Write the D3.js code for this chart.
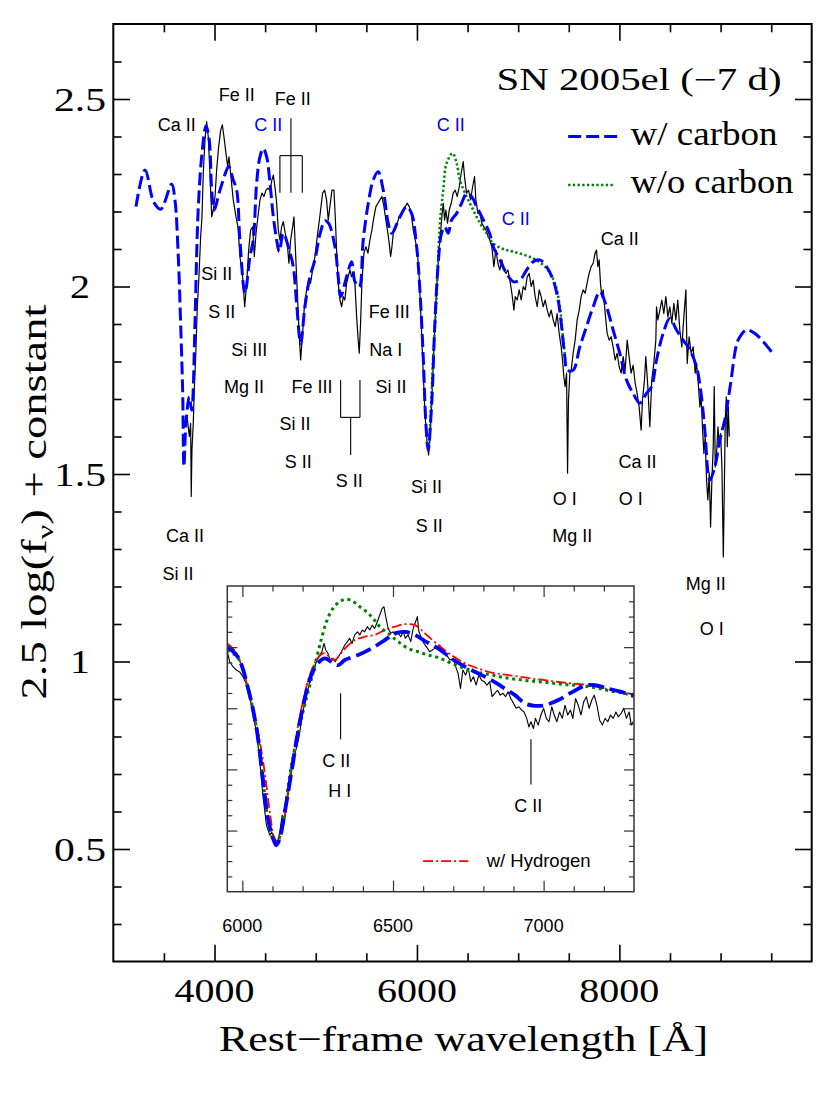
<!DOCTYPE html>
<html><head><meta charset="utf-8">
<script src="https://cdn.jsdelivr.net/npm/d3@7"></script>
<style>body{margin:0;background:#fff}</style>
</head><body><svg id="c" width="830" height="1106"></svg>
<script>
// ---------- DATA ----------
const obsWave=[3731,3751,3764,3770,3777,3790,3800,3814,3830,3846,3863,3876,3889,3906,3922,3938,3955,3972,3988,4005,4021,4041,4061,4077,4093,4113,4130,4143,4159,4185,4212,4232,4251,4278,4298,4318,4337,4357,4377,4393,4410,4429,4449,4469,4488,4508,4528,4548,4567,4581,4597,4614,4630,4646,4663,4679,4699,4719,4735,4752,4772,4785,4798,4817,4834,4851,4870,4890,4910,4930,4949,4969,4992,5015,5042,5068,5088,5107,5124,5140,5160,5180,5193,5206,5222,5239,5256,5272,5288,5305,5321,5338,5354,5371,5387,5404,5417,5430,5443,5456,5476,5496,5516,5535,5555,5575,5595,5614,5634,5654,5674,5693,5713,5726,5740,5753,5766,5786,5805,5825,5845,5865,5884,5904,5924,5944,5963,5983,6003,6022,6042,6062,6081,6101,6115,6128,6148,6167,6187,6207,6227,6246,6260,6273,6286,6302,6319,6339,6358,6378,6398,6418,6437,6457,6470,6490,6510,6530,6550,6569,6582,6602,6622,6641,6661,6681,6704,6720,6740,6760,6780,6800,6819,6839,6859,6879,6899,6918,6938,6958,6971,6991,7010,7030,7050,7070,7089,7109,7129,7148,7168,7188,7208,7227,7247,7267,7287,7306,7326,7346,7366,7385,7405,7425,7438,7451,7464,7478,7488,7497,7511,7524,7543,7563,7583,7603,7622,7642,7662,7681,7701,7721,7741,7760,7774,7787,7800,7813,7827,7840,7860,7879,7899,7919,7938,7958,7978,7998,8017,8037,8057,8077,8096,8116,8136,8156,8175,8195,8215,8228,8248,8261,8281,8301,8320,8340,8360,8367,8380,8400,8419,8439,8459,8479,8498,8518,8538,8558,8577,8597,8617,8637,8657,8670,8689,8709,8729,8749,8762,8782,8795,8808,8822,8835,8848,8861,8874,8888,8901,8914,8927,8937,8947,8960,8974,8987,9000,9013,9027,9037,9046,9056,9066,9076,9086];
const obsFlux=[1.648,1.600,1.635,1.440,1.564,1.635,1.724,1.813,1.946,2.026,2.133,2.186,2.302,2.391,2.440,2.400,2.302,2.186,2.204,2.240,2.311,2.373,2.417,2.431,2.400,2.355,2.320,2.346,2.302,2.231,2.186,2.159,2.080,2.026,1.946,2.009,2.097,2.151,2.159,2.080,2.142,2.186,2.231,2.249,2.240,2.257,2.262,2.257,2.284,2.297,2.266,2.222,2.151,2.124,2.159,2.173,2.142,2.115,2.062,2.124,2.159,2.186,2.106,1.991,1.884,1.804,1.875,1.955,1.991,2.017,2.009,2.044,2.080,2.133,2.190,2.249,2.257,2.231,2.177,2.213,2.257,2.257,2.186,2.097,2.009,1.964,1.946,1.973,1.964,2.009,2.026,2.044,2.026,2.035,2.009,1.919,1.866,1.822,1.902,2.009,2.089,2.106,2.089,2.124,2.151,2.186,2.213,2.222,2.231,2.240,2.213,2.177,2.142,2.115,2.080,2.106,2.142,2.151,2.169,2.186,2.195,2.204,2.213,2.222,2.213,2.195,2.151,2.124,2.097,2.026,1.902,1.769,1.653,1.582,1.551,1.591,1.706,1.831,1.955,2.053,2.124,2.186,2.222,2.177,2.204,2.169,2.204,2.222,2.249,2.257,2.240,2.266,2.302,2.333,2.293,2.249,2.257,2.231,2.266,2.293,2.231,2.195,2.195,2.169,2.159,2.151,2.133,2.124,2.106,2.053,2.097,2.062,2.044,2.071,2.044,2.035,2.044,2.017,1.982,1.937,1.973,1.964,1.991,1.964,2.000,1.991,2.026,2.035,2.000,2.017,1.973,1.946,1.991,1.973,1.946,1.964,1.937,1.919,1.937,1.911,1.893,1.928,1.875,1.839,1.804,1.759,1.733,1.769,1.502,1.697,1.769,1.777,1.822,1.857,1.911,1.937,1.973,1.991,1.982,2.009,2.035,2.053,2.062,2.089,2.097,2.053,2.071,2.009,1.973,1.991,1.928,1.875,1.857,1.866,1.839,1.804,1.822,1.786,1.769,1.813,1.777,1.857,1.813,1.769,1.790,1.742,1.715,1.679,1.617,1.697,1.751,1.813,1.733,1.626,1.751,1.795,1.857,1.946,1.911,1.937,1.964,1.928,1.973,1.919,1.946,1.902,1.955,1.911,1.964,1.884,1.839,1.919,1.991,1.795,1.866,1.822,1.839,1.769,1.795,1.733,1.679,1.706,1.617,1.555,1.600,1.484,1.431,1.502,1.359,1.484,1.573,1.733,1.519,1.555,1.626,1.573,1.608,1.519,1.279,1.466,1.644,1.706,1.573,1.679,1.600];

const carbonWave=[3224,3313,3400,3468,3577,3609,3642,3665,3685,3698,3718,3751,3774,3807,3823,3840,3873,3916,3948,3972,3995,4054,4120,4140,4185,4219,4251,4301,4350,4383,4416,4449,4482,4515,4548,4581,4614,4640,4679,4738,4778,4811,4851,4893,4943,4992,5042,5091,5126,5190,5222,5246,5305,5354,5387,5430,5469,5519,5568,5617,5667,5716,5750,5832,5898,5947,5997,6029,6062,6088,6111,6144,6177,6210,6243,6276,6309,6342,6392,6441,6490,6540,6589,6655,6720,6753,6819,6885,6951,7017,7083,7148,7214,7280,7346,7395,7429,7461,7484,7543,7609,7675,7741,7807,7873,7938,8004,8070,8136,8202,8268,8318,8367,8432,8498,8564,8630,8696,8762,8811,8844,8893,8943,8992,9041,9074,9108,9140,9173,9256,9338,9420,9503];
const carbonFlux=[2.213,2.311,2.225,2.206,2.273,2.231,2.080,1.903,1.724,1.520,1.636,1.706,1.670,1.903,2.080,2.213,2.346,2.428,2.390,2.257,2.204,2.257,2.311,2.320,2.284,2.257,2.124,1.982,2.080,2.124,2.275,2.346,2.368,2.346,2.275,2.186,2.124,2.093,2.142,2.097,2.053,1.955,1.848,1.946,2.026,2.071,2.140,2.175,2.169,2.106,2.026,1.973,2.026,2.066,2.013,1.999,2.124,2.222,2.284,2.306,2.257,2.169,2.142,2.186,2.213,2.195,2.106,1.991,1.813,1.635,1.564,1.679,1.902,2.062,2.142,2.159,2.142,2.177,2.195,2.222,2.248,2.240,2.213,2.178,2.140,2.106,2.071,2.035,2.013,2.017,2.044,2.066,2.071,2.053,2.017,1.964,1.893,1.813,1.777,1.777,1.839,1.893,1.946,1.986,1.946,1.884,1.822,1.751,1.715,1.689,1.715,1.733,1.804,1.875,1.915,1.884,1.857,1.831,1.786,1.706,1.617,1.484,1.519,1.591,1.644,1.697,1.759,1.822,1.857,1.884,1.875,1.853,1.826];

const noCarbonWave=[6100,6111,6161,6194,6227,6260,6293,6352,6392,6424,6490,6556,6622,6688,6753,6851,6951,7148,7280,7362,7412,7445,7461];
const noCarbonFlux=[1.585,1.575,1.813,1.973,2.169,2.257,2.329,2.355,2.329,2.284,2.240,2.204,2.169,2.142,2.115,2.100,2.093,2.075,2.049,2.009,1.946,1.857,1.822];

const insetObsWave=[5950,5958,5969,5980,5991,6002,6013,6024,6035,6047,6058,6068,6080,6091,6098,6107,6115,6124,6132,6141,6150,6157,6168,6179,6187,6194,6201,6213,6224,6235,6246,6257,6264,6271,6277,6284,6293,6301,6308,6318,6329,6340,6349,6356,6364,6373,6382,6390,6398,6406,6415,6423,6431,6439,6448,6456,6464,6470,6477,6484,6493,6500,6508,6517,6526,6534,6541,6550,6559,6567,6575,6581,6586,6595,6603,6611,6622,6639,6655,6666,6678,6689,6700,6708,6716,6724,6732,6741,6750,6758,6767,6776,6785,6794,6803,6812,6821,6829,6838,6847,6856,6865,6874,6882,6891,6900,6909,6918,6927,6935,6944,6951,6958,6966,6973,6982,6991,7000,7009,7018,7027,7035,7044,7053,7062,7071,7080,7089,7097,7106,7115,7124,7133,7142,7151,7160,7168,7177,7186,7195,7204,7213,7222,7231,7240,7248,7257,7266,7275,7284,7291,7297];
const insetObsFlux=[0.785,0.752,0.736,0.725,0.719,0.703,0.681,0.643,0.578,0.523,0.425,0.316,0.217,0.185,0.195,0.163,0.152,0.195,0.250,0.239,0.305,0.348,0.425,0.469,0.501,0.545,0.588,0.643,0.687,0.725,0.752,0.774,0.785,0.812,0.790,0.780,0.752,0.763,0.752,0.768,0.785,0.807,0.818,0.829,0.812,0.840,0.850,0.840,0.856,0.850,0.867,0.856,0.872,0.861,0.883,0.905,0.927,0.932,0.894,0.861,0.845,0.850,0.840,0.845,0.834,0.850,0.829,0.840,0.818,0.861,0.883,0.900,0.850,0.829,0.812,0.801,0.785,0.796,0.807,0.785,0.774,0.758,0.763,0.736,0.714,0.665,0.725,0.709,0.731,0.687,0.703,0.676,0.709,0.692,0.687,0.676,0.687,0.638,0.649,0.659,0.643,0.649,0.638,0.654,0.632,0.616,0.600,0.605,0.594,0.588,0.567,0.539,0.556,0.534,0.567,0.545,0.578,0.600,0.567,0.556,0.605,0.578,0.556,0.588,0.567,0.610,0.578,0.594,0.567,0.632,0.610,0.578,0.621,0.638,0.600,0.627,0.643,0.610,0.561,0.545,0.567,0.556,0.578,0.567,0.588,0.572,0.583,0.600,0.567,0.588,0.545,0.556];

const insetCarbonWave=[5950,5985,6019,6047,6068,6085,6102,6113,6124,6141,6163,6185,6207,6229,6251,6273,6296,6318,6340,6384,6429,6473,6506,6539,6573,6606,6650,6694,6739,6783,6827,6871,6905,6938,6971,7004,7049,7093,7137,7171,7204,7248,7298];
const insetCarbonFlux=[0.801,0.768,0.665,0.534,0.370,0.239,0.174,0.152,0.174,0.261,0.392,0.523,0.632,0.709,0.747,0.763,0.752,0.741,0.758,0.774,0.796,0.823,0.845,0.850,0.840,0.820,0.796,0.763,0.736,0.714,0.692,0.665,0.643,0.616,0.608,0.610,0.627,0.652,0.674,0.676,0.667,0.656,0.643];

const insetNoCarbonWave=[5950,5985,6019,6047,6068,6085,6107,6124,6141,6163,6196,6224,6246,6263,6279,6301,6323,6346,6368,6390,6412,6434,6456,6484,6517,6550,6583,6617,6650,6694,6739,6783,6827,6871,6916,6960,7004,7049,7093,7137,7181,7226,7270,7298];
const insetNoCarbonFlux=[0.790,0.765,0.665,0.534,0.370,0.239,0.163,0.180,0.270,0.414,0.567,0.676,0.763,0.829,0.883,0.927,0.949,0.957,0.949,0.932,0.916,0.894,0.867,0.845,0.818,0.796,0.785,0.774,0.766,0.747,0.730,0.717,0.709,0.700,0.694,0.689,0.685,0.680,0.676,0.672,0.665,0.656,0.649,0.638];

const insetHydWave=[5950,5974,5997,6024,6052,6074,6091,6107,6118,6135,6157,6179,6201,6224,6246,6268,6290,6307,6323,6346,6373,6406,6439,6473,6506,6539,6573,6606,6650,6694,6739,6783,6827,6871,6916,6960,7004,7049,7093,7137,7181,7226,7298];
const insetHydFlux=[0.812,0.790,0.741,0.643,0.523,0.392,0.261,0.174,0.163,0.217,0.370,0.512,0.621,0.709,0.758,0.780,0.768,0.758,0.774,0.801,0.823,0.834,0.840,0.856,0.867,0.875,0.872,0.845,0.807,0.774,0.747,0.730,0.717,0.710,0.704,0.697,0.692,0.686,0.681,0.677,0.669,0.660,0.645];

const xMajorTicks=[4000,6000,8000];
const xMinorTicks=[3500,4500,5000,5500,6500,7000,7500,8500,9000,9500];
const yMajorTicks=[0.5,1,1.5,2,2.5];
const yTickLabels=["0.5","1","1.5","2","2.5"];
const insetXMajor=[6000,6500,7000];
const insetYMajor=[0.2,0.4,0.6,0.8];

// line identifications: [text, wavelength, flux, colour]
const lineIds=[
 ["Ca II",3626,2.431,"#000"],["Fe II",4219,2.511,"#000"],["C II",4531,2.431,"#0000ff"],["Fe II",4772,2.502,"#000"],
 ["C II",6335,2.431,"#0000ff"],["C II",6977,2.182,"#0000ff"],["Ca II",8004,2.129,"#000"],
 ["Si II",4021,2.035,"#000"],["S II",4071,1.933,"#000"],["Si III",4343,1.833,"#000"],["Mg II",4291,1.733,"#000"],
 ["Fe III",5726,1.933,"#000"],["Na I",5693,1.831,"#000"],["Fe III",4963,1.733,"#000"],["Si II",5743,1.733,"#000"],
 ["Si II",4794,1.635,"#000"],["S II",4827,1.533,"#000"],["S II",5331,1.484,"#000"],
 ["Si II",6095,1.466,"#000"],["S II",6121,1.364,"#000"],["O I",7461,1.435,"#000"],["Mg II",7535,1.335,"#000"],
 ["Ca II",8179,1.533,"#000"],["O I",8113,1.435,"#000"],["Ca II",3708,1.337,"#000"],["Si II",3639,1.236,"#000"],
 ["Mg II",8854,1.209,"#000"],["O I",8912,1.089,"#000"]
];
// bracket markers (wavelength, flux)
const feBracket={stem:[4755,2.449,2.349],legs:[4646,4755,4867],legBottom:2.25};
const sBracket={stem:[5345,1.651,1.551],legs:[5246,5437],legTop:1.751};
const insetIds=[["C II",6312,0.43],["H I",6323,0.332],["C II",6949,0.281]];
const insetMarks=[[6326,0.649,0.499],[6958,0.499,0.351]];

// ---------- CHART ----------
const svg=d3.select("#c");
const serif="'Liberation Serif','Times New Roman',serif";
const sans="'Liberation Sans',Arial,sans-serif";
const X0=113.3,X1=811.7,Y0=24,Y1=961.5;
const x=d3.scaleLinear().domain([3000,9900]).range([X0,X1]);
const y=d3.scaleLinear().domain([0.2,2.7]).range([Y1,Y0]);

svg.append("defs").append("clipPath").attr("id","mclip").append("rect")
  .attr("x",X0).attr("y",Y0).attr("width",X1-X0).attr("height",Y1-Y0);

const zip=(a,b)=>a.map((v,i)=>[v,b[i]]);
const lineLin=(sx,sy)=>d3.line().x(d=>sx(d[0])).y(d=>sy(d[1]));
const lineSm=(sx,sy)=>d3.line().curve(d3.curveCatmullRom.alpha(0.5)).x(d=>sx(d[0])).y(d=>sy(d[1]));

const plot=svg.append("g").attr("clip-path","url(#mclip)");
plot.append("path").attr("d",lineLin(x,y)(zip(obsWave,obsFlux)))
  .attr("fill","none").attr("stroke","#000").attr("stroke-width",1.2).attr("stroke-linejoin","round");
plot.append("path").attr("d",lineSm(x,y)(zip(noCarbonWave,noCarbonFlux)))
  .attr("fill","none").attr("stroke","#008000").attr("stroke-width",2.5).attr("stroke-dasharray","2.3,2.4");
plot.append("path").attr("d",lineSm(x,y)(zip(carbonWave,carbonFlux)))
  .attr("fill","none").attr("stroke","#0000ff").attr("stroke-width",3).attr("stroke-dasharray","13,5");

// axes (ticks inward)
function ticks(g,axisFn,scale,vals,len){
  g.call(axisFn(scale).tickValues(vals).tickSize(-len).tickFormat(""))
   .call(s=>s.select(".domain").remove())
   .call(s=>s.selectAll("line").attr("stroke","#000").attr("stroke-width",1.6));
}
const yMinor=d3.range(3,27).map(d=>d/10).filter(v=>Math.abs(v*2-Math.round(v*2))>1e-6);
[[d3.axisBottom,`translate(0,${Y1})`],[d3.axisTop,`translate(0,${Y0})`]].forEach(([f,t])=>{
  ticks(svg.append("g").attr("transform",t),f,x,xMajorTicks,16.7);
  ticks(svg.append("g").attr("transform",t),f,x,xMinorTicks,8.3);
});
[[d3.axisLeft,`translate(${X0},0)`],[d3.axisRight,`translate(${X1},0)`]].forEach(([f,t])=>{
  ticks(svg.append("g").attr("transform",t),f,y,yMajorTicks,16.7);
  ticks(svg.append("g").attr("transform",t),f,y,yMinor,8.3);
});
svg.append("rect").attr("x",X0).attr("y",Y0).attr("width",X1-X0).attr("height",Y1-Y0)
  .attr("fill","none").attr("stroke","#000").attr("stroke-width",2);

// tick labels
svg.selectAll(".xl").data(xMajorTicks).enter().append("text")
  .attr("x",d=>x(d)).attr("y",1002).attr("text-anchor","middle")
  .attr("font-family",serif).attr("font-size",33).attr("textLength",80).attr("lengthAdjust","spacingAndGlyphs")
  .text(d=>d);
svg.selectAll(".yl").data(yMajorTicks).enter().append("text")
  .attr("x",80).attr("y",d=>y(d)+11.5).attr("text-anchor","middle")
  .attr("font-family",serif).attr("font-size",33)
  .attr("textLength",(d,i)=>yTickLabels[i].length>1?52:20).attr("lengthAdjust","spacingAndGlyphs")
  .text((d,i)=>yTickLabels[i]);

// axis titles
svg.append("text").attr("x",463.6).attr("y",1051).attr("text-anchor","middle")
  .attr("font-family",serif).attr("font-size",35).attr("textLength",489).attr("lengthAdjust","spacingAndGlyphs")
  .text("Rest\u2212frame wavelength [Å]");
const yt=svg.append("text").attr("transform","translate(46,502) rotate(-90)").attr("text-anchor","middle")
  .attr("font-family",serif).attr("font-size",35).attr("textLength",395).attr("lengthAdjust","spacingAndGlyphs");
yt.append("tspan").text("2.5 log(f");
yt.append("tspan").attr("font-size",24).attr("dy",7).text("\u03bd");
yt.append("tspan").attr("dy",-7).text(") + constant");

// title & legend
svg.append("text").attr("x",x(6786)).attr("y",y(2.524)).attr("font-family",serif).attr("font-size",31)
  .attr("textLength",285).attr("lengthAdjust","spacingAndGlyphs").text("SN 2005el (\u22127 d)");
svg.append("line").attr("x1",x(7494)).attr("x2",x(7978)).attr("y1",y(2.4)).attr("y2",y(2.4))
  .attr("stroke","#0000ff").attr("stroke-width",3).attr("stroke-dasharray","13,5");
svg.append("text").attr("x",x(8110)).attr("y",y(2.377)).attr("font-family",serif).attr("font-size",33)
  .attr("textLength",147).attr("lengthAdjust","spacingAndGlyphs").text("w/ carbon");
svg.append("line").attr("x1",x(7494)).attr("x2",x(7955)).attr("y1",y(2.271)).attr("y2",y(2.271))
  .attr("stroke","#008000").attr("stroke-width",2.5).attr("stroke-dasharray","2.3,2.4");
svg.append("text").attr("x",x(8110)).attr("y",y(2.249)).attr("font-family",serif).attr("font-size",33)
  .attr("textLength",163).attr("lengthAdjust","spacingAndGlyphs").text("w/o carbon");

// line identifications
svg.selectAll(".id").data(lineIds).enter().append("text")
  .attr("x",d=>x(d[1])).attr("y",d=>y(d[2])+6.5).attr("text-anchor","middle")
  .attr("font-family",sans).attr("font-size",18).attr("fill",d=>d[3]).text(d=>d[0]);

const mk=svg.append("g").attr("stroke","#000").attr("stroke-width",1.1);
mk.append("line").attr("x1",x(feBracket.stem[0])).attr("x2",x(feBracket.stem[0])).attr("y1",y(feBracket.stem[1])).attr("y2",y(feBracket.stem[2]));
mk.append("line").attr("x1",x(d3.min(feBracket.legs))).attr("x2",x(d3.max(feBracket.legs))).attr("y1",y(feBracket.stem[2])).attr("y2",y(feBracket.stem[2]));
feBracket.legs.forEach(l=>mk.append("line").attr("x1",x(l)).attr("x2",x(l)).attr("y1",y(feBracket.stem[2])).attr("y2",y(feBracket.legBottom)));
mk.append("line").attr("x1",x(sBracket.stem[0])).attr("x2",x(sBracket.stem[0])).attr("y1",y(sBracket.stem[1])).attr("y2",y(sBracket.stem[2]));
mk.append("line").attr("x1",x(d3.min(sBracket.legs))).attr("x2",x(d3.max(sBracket.legs))).attr("y1",y(sBracket.stem[1])).attr("y2",y(sBracket.stem[1]));
sBracket.legs.forEach(l=>mk.append("line").attr("x1",x(l)).attr("x2",x(l)).attr("y1",y(sBracket.legTop)).attr("y2",y(sBracket.stem[1])));

// ---------- INSET ----------
const IX0=227.3,IX1=634,IY0=586,IY1=891.7;
const xi=d3.scaleLinear().domain([5950,7300]).range([IX0,IX1]);
const yi=d3.scaleLinear().domain([0,1]).range([IY1,IY0]);
svg.append("rect").attr("x",IX0).attr("y",IY0).attr("width",IX1-IX0).attr("height",IY1-IY0).attr("fill","#fff");
svg.append("defs").append("clipPath").attr("id","iclip").append("rect")
  .attr("x",IX0).attr("y",IY0).attr("width",IX1-IX0).attr("height",IY1-IY0);
const ip=svg.append("g").attr("clip-path","url(#iclip)");
ip.append("path").attr("d",lineLin(xi,yi)(zip(insetObsWave,insetObsFlux)))
  .attr("fill","none").attr("stroke","#000").attr("stroke-width",1.1).attr("stroke-linejoin","round");
ip.append("path").attr("d",lineSm(xi,yi)(zip(insetHydWave,insetHydFlux)))
  .attr("fill","none").attr("stroke","#ff0000").attr("stroke-width",1.8).attr("stroke-dasharray","10,3,2,3");
ip.append("path").attr("d",lineSm(xi,yi)(zip(insetNoCarbonWave,insetNoCarbonFlux)))
  .attr("fill","none").attr("stroke","#008000").attr("stroke-width",3).attr("stroke-dasharray","3,3.7");
ip.append("path").attr("d",lineSm(xi,yi)(zip(insetCarbonWave,insetCarbonFlux)))
  .attr("fill","none").attr("stroke","#0000ff").attr("stroke-width",3.8).attr("stroke-dasharray","16,6");

const ixMinor=d3.range(6000,7300,100).filter(v=>v%500!==0);
const iyMinor=d3.range(1,20).map(d=>d/20).filter(v=>Math.abs(v*5-Math.round(v*5))>1e-6);
function iticks(g,axisFn,scale,vals,len){
  g.call(axisFn(scale).tickValues(vals).tickSize(-len).tickFormat(""))
   .call(s=>s.select(".domain").remove())
   .call(s=>s.selectAll("line").attr("stroke","#333").attr("stroke-width",1.2));
}
[[d3.axisBottom,`translate(0,${IY1})`],[d3.axisTop,`translate(0,${IY0})`]].forEach(([f,t])=>{
  iticks(svg.append("g").attr("transform",t),f,xi,insetXMajor,11);
  iticks(svg.append("g").attr("transform",t),f,xi,ixMinor,5.5);
});
[[d3.axisLeft,`translate(${IX0},0)`],[d3.axisRight,`translate(${IX1},0)`]].forEach(([f,t])=>{
  iticks(svg.append("g").attr("transform",t),f,yi,insetYMajor,10);
  iticks(svg.append("g").attr("transform",t),f,yi,iyMinor,5);
});
svg.append("rect").attr("x",IX0).attr("y",IY0).attr("width",IX1-IX0).attr("height",IY1-IY0)
  .attr("fill","none").attr("stroke","#333").attr("stroke-width",1.5);
svg.selectAll(".ixl").data(insetXMajor).enter().append("text")
  .attr("x",d=>xi(d)).attr("y",931.5).attr("text-anchor","middle")
  .attr("font-family",sans).attr("font-size",18).text(d=>d);

svg.selectAll(".iid").data(insetIds).enter().append("text")
  .attr("x",d=>xi(d[1])).attr("y",d=>yi(d[2])+6.5).attr("text-anchor","middle")
  .attr("font-family",sans).attr("font-size",18).text(d=>d[0]);
insetMarks.forEach(m=>svg.append("line").attr("x1",xi(m[0])).attr("x2",xi(m[0])).attr("y1",yi(m[1])).attr("y2",yi(m[2]))
  .attr("stroke","#000").attr("stroke-width",1.1));
svg.append("line").attr("x1",xi(6600)).attr("x2",xi(6750)).attr("y1",yi(0.1)).attr("y2",yi(0.1))
  .attr("stroke","#ff0000").attr("stroke-width",1.8).attr("stroke-dasharray","10,3,2,3");
svg.append("text").attr("x",xi(6811)).attr("y",yi(0.103)+6.5).attr("font-family",sans).attr("font-size",18.5)
  .text("w/ Hydrogen");
</script></body></html>
